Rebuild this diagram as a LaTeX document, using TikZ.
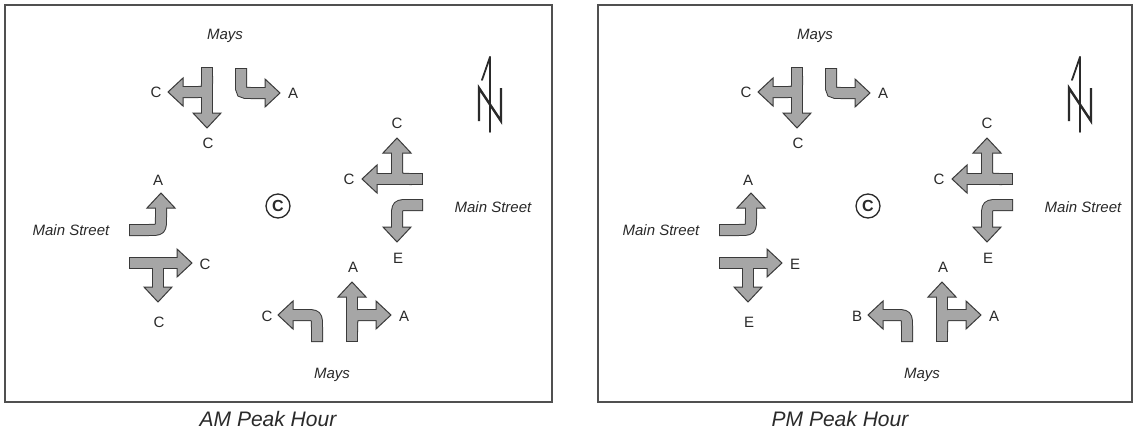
\documentclass[tikz,border=0pt]{standalone}
\usepackage{fontspec}
\setmainfont{Liberation Sans}
\definecolor{arrowfill}{HTML}{A6A6A6}
\definecolor{arrowline}{HTML}{3A3A3A}
\definecolor{txt}{HTML}{2A2A2A}
\definecolor{boxline}{HTML}{505050}
\tikzset{
  shaftout/.style={draw=arrowline, line width=12pt},
  shaftin/.style={draw=arrowfill, line width=10pt, shorten <=1pt},
  headtri/.style={fill=arrowfill, draw=arrowline, line width=1pt, line join=miter},
  arrowhd/.pic={\path[headtri] (0,0) -- (-15,-14) -- (-15,14) -- cycle;},
  lbl/.style={font=\fontsize{15}{15}\selectfont, text=txt, inner sep=0pt},
  street/.style={font=\fontsize{15}{15}\selectfont\itshape, text=txt, inner sep=0pt},
  caption/.style={font=\fontsize{21}{21}\selectfont\itshape, text=txt, inner sep=0pt},
  panelbox/.style={draw=boxline, line width=1.3pt},
}
\newcommand{\shaftset}[1]{%
  \draw[#1] (207,67) -- (207,114.5);
  \draw[#1] (207,76) -- (207,83) .. controls (207,92) .. (198,92) -- (181.5,92);
  \draw[#1] (241,68) -- (241,83) .. controls (241,93) .. (251,93) -- (266.5,93);
  \draw[#1] (423,179) -- (375.5,179);
  \draw[#1] (412,179) .. controls (397,179) .. (397,166) -- (397,151.5);
  \draw[#1] (423,205) -- (410,205) .. controls (397,205) .. (397,218) -- (397,228.5);
  \draw[#1] (129,230) -- (148,230) .. controls (161,230) .. (161,217) -- (161,206.5);
  \draw[#1] (129,263) -- (178.5,263);
  \draw[#1] (158,263) -- (158,288.5);
  \draw[#1] (317,342) -- (317,328) .. controls (317,315) .. (304,315) -- (291.5,315);
  \draw[#1] (352,342) -- (352,295.5);
  \draw[#1] (352,332) .. controls (352,315) .. (365,315) -- (377.5,315);
}
\newcommand{\trafficpanel}[4]{%
  \shaftset{shaftout}
  \pic[rotate=-90] at (207,128) {arrowhd};
  \pic[rotate=180] at (168,92) {arrowhd};
  \pic at (280,93) {arrowhd};
  \pic[rotate=180] at (362,179) {arrowhd};
  \pic[rotate=90] at (397,138) {arrowhd};
  \pic[rotate=-90] at (397,242) {arrowhd};
  \pic[rotate=90] at (161,193) {arrowhd};
  \pic at (192,263) {arrowhd};
  \pic[rotate=-90] at (158,302) {arrowhd};
  \pic[rotate=180] at (278,315) {arrowhd};
  \pic[rotate=90] at (352,282) {arrowhd};
  \pic at (391,315) {arrowhd};
  \shaftset{shaftin}
  \node[street] (#4mays1) at (225,36) {Mays};
  \node[lbl] (#4sbl) at (156,92) {C};
  \node[lbl] (#4sbt) at (208,143) {C};
  \node[lbl] (#4sbr) at (293,93) {A};
  \node[lbl] (#4wbl) at (397,123) {C};
  \node[lbl] (#4wbt) at (349,179) {C};
  \node[lbl] (#4wbr) at (398,258) {E};
  \node[street] (#4main1) at (493,207) {Main Street};
  \node[lbl] (#4ebl) at (158,180) {A};
  \node[street] (#4main2) at (71,230) {Main Street};
  \node[lbl] (#4ebt) at (205,264) {#1};
  \node[lbl] (#4ebr) at (159,322) {#2};
  \node[lbl] (#4nbl) at (267,316) {#3};
  \node[lbl] (#4nbt) at (353,267) {A};
  \node[lbl] (#4nbr) at (404,316) {A};
  \node[street] (#4mays2) at (332,375) {Mays};
  \node[draw=txt, circle, line width=1.3pt, minimum size=24pt, inner sep=0pt,
        font=\fontsize{16}{16}\selectfont\bfseries, text=txt] (#4circ) at (278,206) {C};
  \draw[txt, line width=1.8pt, line cap=round] (490,57) -- (490,132);
  \draw[txt, line width=1.8pt, line cap=round] (490,57) -- (482,80);
  \draw[txt, line width=2.4pt, line join=miter] (479,121) -- (479,88) -- (501,121) -- (501,88);
}
\begin{document}
\begin{tikzpicture}[x=1pt, y=-1pt]
\useasboundingbox (0,0) rectangle (1134,434);
\fill[white] (0,0) rectangle (1134,434);
\draw[panelbox] (5,5) rectangle (552,402);
\draw[boxline, line width=2.2pt] (5,402) -- (552,402);
\draw[panelbox] (598,5) rectangle (1132,402);
\draw[boxline, line width=2.2pt] (598,402) -- (1132,402);
\begin{scope}
\trafficpanel{C}{C}{C}{am}
\end{scope}
\begin{scope}[xshift=590pt]
\trafficpanel{E}{E}{B}{pm}
\end{scope}
\node[caption] (capam) at (268,419) {AM Peak Hour};
\node[caption] (cappm) at (840,419) {PM Peak Hour};
\end{tikzpicture}
\end{document}
